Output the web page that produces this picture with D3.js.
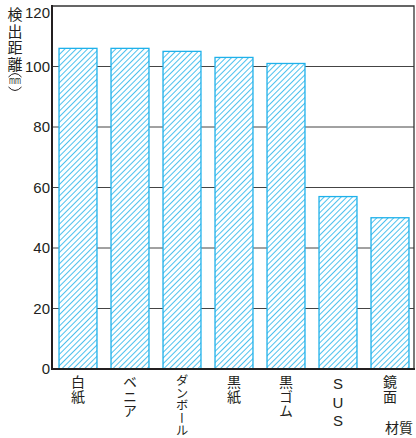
<!DOCTYPE html>
<html>
<head>
<meta charset="utf-8">
<script src="https://cdn.jsdelivr.net/npm/d3@7"></script>
<style>
  body { margin: 0; background: #fff; }
  text { font-family: "Liberation Sans", Arial, "Noto Sans CJK JP", sans-serif; fill: #231f20; }
  .jp { font-family: "Noto Sans CJK JP", sans-serif; }
  .vert { writing-mode: vertical-rl; text-orientation: upright; }
</style>
</head>
<body>
<svg id="chart" width="416" height="438"></svg>
<script>
const materials = ['白紙', 'ベニア', 'ダンボール', '黒紙', '黒ゴム', 'SUS', '鏡面']
const distances = [106, 106, 105, 103, 101, 57, 50]
const yTicks = [0, 20, 40, 60, 80, 100, 120]
const yTitle = '検出距離'
const yUnit = 'mm'
const xTitle = '材質'

const svg = d3.select('#chart')
const dims = { left: 52, right: 414, top: 6, bottom: 369 }
const barColor = '#1fb1ea'

const x = d3.scaleBand()
  .domain(materials)
  .range([dims.left, dims.left + 364])
  .paddingInner(0.27)
  .paddingOuter(0.135)

const y = d3.scaleLinear()
  .domain([0, 120])
  .range([dims.bottom, dims.top])

// hatch pattern
const defs = svg.append('defs')
const pat = defs.append('pattern')
  .attr('id', 'hatch')
  .attr('patternUnits', 'userSpaceOnUse')
  .attr('width', 4)
  .attr('height', 4)
  .attr('patternTransform', 'rotate(45)')
pat.append('rect').attr('width', 4).attr('height', 4).attr('fill', '#fff')
pat.append('line')
  .attr('x1', 0).attr('y1', 0).attr('x2', 0).attr('y2', 4)
  .attr('stroke', barColor)
  .attr('stroke-width', 1.6)

// gridlines
svg.append('g')
  .selectAll('line')
  .data(yTicks.filter(d => d > 0 && d < 120))
  .enter()
  .append('line')
  .attr('x1', dims.left)
  .attr('x2', dims.right)
  .attr('y1', d => y(d))
  .attr('y2', d => y(d))
  .attr('stroke', '#444')
  .attr('stroke-width', 1)

// bars
svg.append('g')
  .selectAll('rect')
  .data(materials)
  .enter()
  .append('rect')
  .attr('x', d => x(d))
  .attr('y', (d, i) => y(distances[i]))
  .attr('width', x.bandwidth())
  .attr('height', (d, i) => y(0) - y(distances[i]))
  .attr('fill', 'url(#hatch)')
  .attr('stroke', barColor)
  .attr('stroke-width', 1.3)

// frame
svg.append('path')
  .attr('d', `M${dims.left},${dims.top} H${dims.right} V${dims.bottom}`)
  .attr('fill', 'none')
  .attr('stroke', '#333')
  .attr('stroke-width', 1.3)
svg.append('path')
  .attr('d', `M${dims.left},${dims.top - 1} V${dims.bottom} H${dims.right + 1}`)
  .attr('fill', 'none')
  .attr('stroke', '#231f20')
  .attr('stroke-width', 2)

// y tick labels (top one nudged down so it stays inside)
svg.append('g')
  .selectAll('text')
  .data(yTicks)
  .enter()
  .append('text')
  .attr('x', 50)
  .attr('y', d => Math.max(y(d), 13))
  .attr('dy', '0.36em')
  .attr('text-anchor', 'end')
  .attr('font-size', 15)
  .text(d => d)

// y title, vertical
const yt = svg.append('g')
yt.append('text')
  .attr('class', 'jp vert')
  .attr('x', 15)
  .attr('y', 7)
  .attr('font-size', 15)
  .attr('letter-spacing', 1.5)
  .text(yTitle)
// unit, squeezed like the ㎜ glyph, inside vertical brackets
yt.append('text')
  .attr('x', 9)
  .attr('y', 84)
  .attr('font-size', 11)
  .attr('textLength', 12)
  .attr('lengthAdjust', 'spacingAndGlyphs')
  .text(yUnit)
yt.append('path')
  .attr('d', 'M8.5,77 Q15,70 21.5,77 M8.5,87 Q15,94 21.5,87')
  .attr('fill', 'none')
  .attr('stroke', '#231f20')
  .attr('stroke-width', 1)

// x labels, vertical
const isLatin = d => /^[A-Z]+$/.test(d)
svg.append('g')
  .selectAll('text')
  .data(materials)
  .enter()
  .append('text')
  .attr('class', d => isLatin(d) ? 'vert' : 'jp vert')
  .attr('x', d => x(d) + x.bandwidth() / 2)
  .attr('y', d => d.length > 3 ? 374 : 375)
  .attr('font-size', d => isLatin(d) ? 15 : (d.length > 3 ? 12.5 : 14))
  .attr('letter-spacing', d => isLatin(d) ? 1.5 : (d.length > 3 ? 0 : 0.5))
  .text(d => d)

svg.append('text')
  .attr('class', 'jp')
  .attr('x', 399)
  .attr('y', 427)
  .attr('dominant-baseline', 'central')
  .attr('text-anchor', 'middle')
  .attr('font-size', 14)
  .text(xTitle)
</script>
</body>
</html>
